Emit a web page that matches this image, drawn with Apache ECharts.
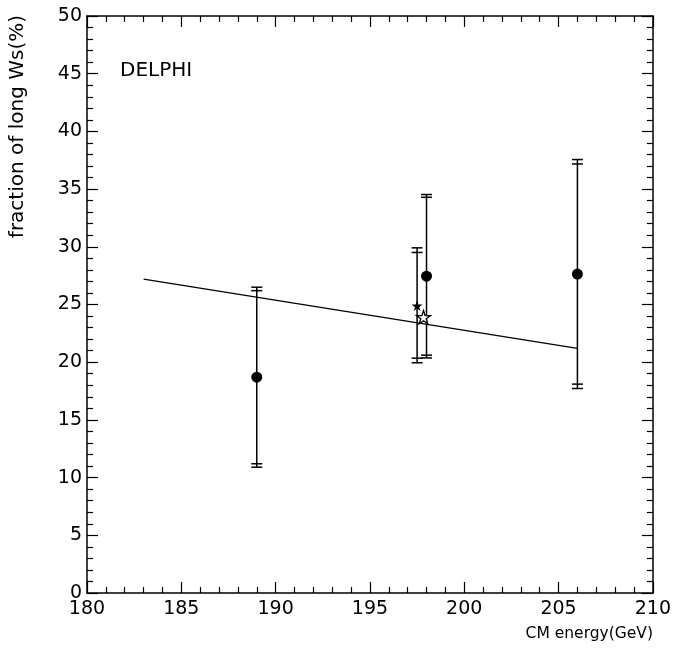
<!DOCTYPE html>
<html>
<head>
<meta charset="utf-8">
<script src="https://cdn.jsdelivr.net/npm/echarts@6/dist/echarts.min.js"></script>
<style>
html,body{margin:0;padding:0;background:#fff;}
#chart{width:674px;height:651px;}
</style>
</head>
<body>
<div id="chart"></div>
<script>
// ---- data ----
var xTicks = [180, 185, 190, 195, 200, 205, 210];
var yTicks = [0, 5, 10, 15, 20, 25, 30, 35, 40, 45, 50];

// error bars (stat = inner caps, tot = outer caps)
var barX    = [189, 197.5, 198, 206];
var barY    = [18.7, 24.93, 27.45, 27.64];
var statErr = [7.5, 4.58, 6.84, 9.54];
var totErr  = [7.8, 4.98, 7.08, 9.92];

// filled circles
var dotX = [189, 198, 206];
var dotY = [18.7, 27.45, 27.64];

// filled star and open star
var starFilledX = [197.5];
var starFilledY = [24.9];
var starOpenX = [197.84];
var starOpenY = [23.9];

// fitted line end points
var fitX = [183, 206];
var fitY = [27.2, 21.2];

var labels = {
  x: 'CM energy(GeV)',
  y: 'fraction of long Ws(%)',
  exp: 'DELPHI'
};

// ---- chart ----
var FONT = 'DejaVu Sans';
var STAR = 'path://M100,0 L122.45,69.1 L195.1,69.1 L136.3,111.8 L158.8,180.9 L100,138.2 L41.2,180.9 L63.7,111.8 L4.9,69.1 L77.55,69.1 Z';

function zipXY(xs, ys) { return xs.map(function (x, i) { return [x, ys[i]]; }); }

var barData = barX.map(function (x, i) { return [x, barY[i], statErr[i], totErr[i]]; });

var chart = echarts.init(document.getElementById('chart'), null, {renderer: 'canvas'});

function axisCommon(showLabel) {
  return {
    axisLine: {show: true, onZero: false, lineStyle: {color: '#000', width: 1.5}},
    axisTick: {show: true, inside: true, length: 11, lineStyle: {color: '#000', width: 1.2}},
    minorTick: {show: true, splitNumber: 5, length: 6, lineStyle: {color: '#000', width: 1.2}},
    splitLine: {show: false},
    minorSplitLine: {show: false},
    axisLabel: showLabel ? {show: true, color: '#000', fontFamily: FONT, fontSize: 19} : {show: false}
  };
}

var xa0 = Object.assign({type: 'value', position: 'bottom', min: xTicks[0], max: xTicks[xTicks.length - 1], interval: xTicks[1] - xTicks[0]}, axisCommon(true));
xa0.axisLabel.margin = 7;
var xa1 = Object.assign({type: 'value', position: 'top', min: xTicks[0], max: xTicks[xTicks.length - 1], interval: xTicks[1] - xTicks[0]}, axisCommon(false));
var ya0 = Object.assign({type: 'value', position: 'left', min: yTicks[0], max: yTicks[yTicks.length - 1], interval: yTicks[1] - yTicks[0]}, axisCommon(true));
ya0.axisLabel.margin = 5;
var ya1 = Object.assign({type: 'value', position: 'right', min: yTicks[0], max: yTicks[yTicks.length - 1], interval: yTicks[1] - yTicks[0]}, axisCommon(false));

var option = {
  backgroundColor: '#fff',
  animation: false,
  grid: {left: 87, right: 21, top: 16, bottom: 58, containLabel: false},
  xAxis: [xa0, xa1],
  yAxis: [ya0, ya1],
  graphic: [
    {type: 'text', left: 120, top: 61, style: {text: labels.exp, font: '20px "' + FONT + '"', fill: '#000'}},
    {type: 'text', right: 21, top: 626, style: {text: labels.x, font: '15.5px "' + FONT + '"', fill: '#000'}},
    {type: 'text', x: 18, y: 15, rotation: Math.PI / 2,
      style: {text: labels.y, font: '20px "' + FONT + '"', fill: '#000', align: 'right', verticalAlign: 'middle'}}
  ],
  series: [
    {
      type: 'line', data: zipXY(fitX, fitY), showSymbol: false, symbol: 'none',
      lineStyle: {color: '#000', width: 1.2}, z: 2
    },
    {
      type: 'custom', data: barData, z: 3,
      renderItem: function (params, api) {
        var x = api.value(0), y = api.value(1), s = api.value(2), t = api.value(3);
        var top = api.coord([x, y + t]);
        var bot = api.coord([x, y - t]);
        var sT = api.coord([x, y + s]);
        var sB = api.coord([x, y - s]);
        var hw = 5.5;
        var st = {stroke: '#000', lineWidth: 1.5};
        function cap(p) {
          return {type: 'line', shape: {x1: p[0] - hw, y1: p[1], x2: p[0] + hw, y2: p[1]}, style: st};
        }
        return {
          type: 'group',
          children: [
            {type: 'line', shape: {x1: top[0], y1: top[1], x2: bot[0], y2: bot[1]}, style: st},
            cap(top), cap(bot), cap(sT), cap(sB)
          ]
        };
      }
    },
    {
      type: 'scatter', data: zipXY(dotX, dotY), symbol: 'circle', symbolSize: 11,
      itemStyle: {color: '#000', opacity: 1}, z: 4
    },
    {
      type: 'scatter', data: zipXY(starFilledX, starFilledY), symbol: STAR, symbolSize: [11, 10.5],
      itemStyle: {color: '#000', opacity: 1}, z: 4
    },
    {
      type: 'scatter', data: zipXY(starOpenX, starOpenY), symbol: STAR, symbolSize: [14, 13.3],
      itemStyle: {color: '#fff', borderColor: '#000', borderWidth: 1.3, opacity: 1}, z: 5
    }
  ]
};
chart.setOption(option);
</script>
</body>
</html>
